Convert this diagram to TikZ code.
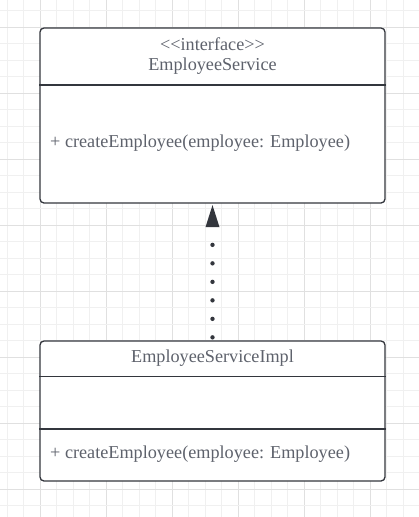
\documentclass[tikz,border=0pt]{standalone}
\usepackage{fontspec}
\setmainfont{Liberation Serif}
\usetikzlibrary{arrows.meta}
\definecolor{boxLine}{HTML}{33363D}
\definecolor{textGray}{HTML}{5E626C}
\definecolor{gridMinor}{HTML}{F0F0F0}
\definecolor{gridMajor}{HTML}{E0E0E0}
\begin{document}
\begin{tikzpicture}
[x=1pt,y=-1pt,%
  minorGrid/.style={-,line width=0.8pt,color=gridMinor},%
  majorGrid/.style={-,line width=0.8pt,color=gridMajor},%
  classBox/.style={shape=rectangle,draw=boxLine,line width=1.3pt,rounded corners=4pt,fill=white,minimum width=345pt,inner sep=0pt},%
  divider/.style={-,draw=boxLine,line width=1.3pt},%
  umlText/.style={text=textGray,inner sep=0pt,font=\fontsize{18.2}{22}\selectfont},%
  realizeLine/.style={draw=boxLine,line width=4.4pt,line cap=round,dash pattern=on 0pt off 18.5pt,%
    -{Triangle[width=14pt,length=22pt,line width=0pt]},shorten <=3pt,shorten >=1.5pt}]
\useasboundingbox[fill=white] (0,0) rectangle (419,517);
%% background grid
\foreach \i in {0,...,25}
{
  \pgfmathsetmacro{\gx}{7+16.5*\i}
  \pgfmathparse{mod(\i+2,4)==0 ? "majorGrid" : "minorGrid"}
  \draw[\pgfmathresult] (\gx,0) -- (\gx,517);
}
\foreach \j in {0,...,31}
{
  \pgfmathsetmacro{\gy}{10.5+16.5*\j}
  \pgfmathparse{mod(\j+3,4)==0 ? "majorGrid" : "minorGrid"}
  \draw[\pgfmathresult] (0,\gy) -- (419,\gy);
}
%% class boxes
\node (service) at (212.5,115.5) [classBox,minimum height=175pt] {};
\node (impl) at (212.5,411) [classBox,minimum height=140pt] {};
%% compartment lines
\foreach \cls/\y in {service/85, impl/376.5, impl/429}
{
  \draw[divider] (\cls.west |- 0,\y) -- (\cls.east |- 0,\y);
}
%% texts
\node (stereo) at (212.5,44) [umlText] {<\kern0pt<interface>\kern0pt>};
\node (serviceName) at (212.5,66) [umlText] {EmployeeService};
\node (serviceOp) at (50,143) [umlText,anchor=west] {+ createEmployee(employee: Employee)};
\node (implName) at (212.5,358) [umlText] {EmployeeServiceImpl};
\node (implOp) at (50,454) [umlText,anchor=west] {+ createEmployee(employee: Employee)};
%% realization
\draw[realizeLine] (impl.north) -- (service.south);
\end{tikzpicture}
\end{document}
